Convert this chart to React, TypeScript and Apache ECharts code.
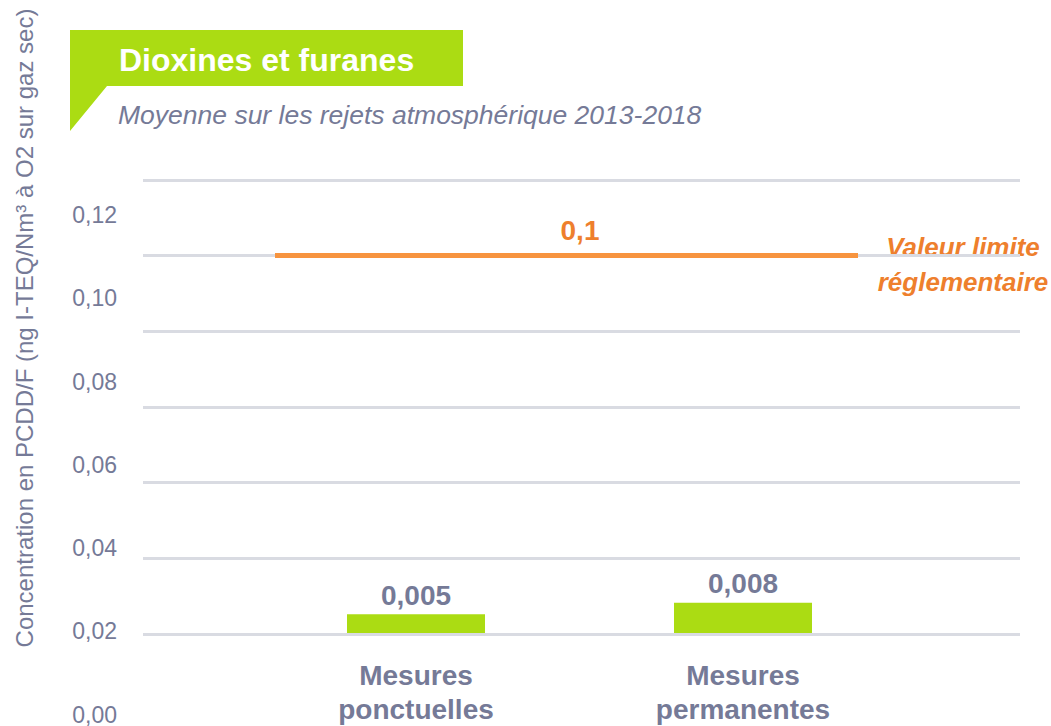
import React, { useEffect, useRef } from "react";
import * as echarts from "echarts";

const categories = ["Mesures\nponctuelles", "Mesures\npermanentes"];
const values = [0.005, 0.008];
const limitValue = 0.1;
const limitLabel = ["Valeur limite", "réglementaire"];
const yMin = 0;
const yMax = 0.12;
const yInterval = 0.02;
const title = "Dioxines et furanes";
const subtitle = "Moyenne sur les rejets atmosphérique 2013-2018";
const yTitle = "Concentration en PCDD/F (ng I-TEQ/Nm³ à O2 sur gaz sec)";

const FONT = "'Liberation Sans', Arial, sans-serif";
const GRAY = "#757a97";
const GREEN = "#abdc13";
const ORANGE_LINE = "#f7943f";
const ORANGE_TEXT = "#ee7f2d";
const GRID = "#d9dbe2";

const fmt = (v: number) => String(v).replace(".", ",");
const fmtTick = (v: number) => v.toFixed(2).replace(".", ",");

export default function App() {
  const ref = useRef<HTMLDivElement>(null);
  useEffect(() => {
    if (!ref.current) return;
    const chart = echarts.init(ref.current, null, { renderer: "svg" });
    chart.setOption({
      animation: false,
      backgroundColor: "#ffffff",
      textStyle: { fontFamily: FONT },
      grid: [
        { left: 143, right: 31, top: 180, bottom: 92 },
        { left: 252.5, width: 654, top: 180, bottom: 92 },
        { left: 125, width: 10, top: 215, bottom: 10 },
        { left: 275, width: 583, top: 180, bottom: 92 },
      ],
      xAxis: [
        { type: "value", gridIndex: 0, show: false, min: 0, max: 1 },
        {
          type: "category",
          gridIndex: 1,
          data: categories,
          axisLine: { show: false },
          axisTick: { show: false },
          axisLabel: {
            color: GRAY,
            fontFamily: FONT,
            fontWeight: "bold",
            fontSize: 28,
            lineHeight: 34,
            margin: 25,
            interval: 0,
          },
        },
        { type: "value", gridIndex: 2, show: false, min: 0, max: 1 },
        { type: "value", gridIndex: 3, show: false, min: 0, max: 1 },
      ],
      yAxis: [
        {
          type: "value",
          gridIndex: 0,
          min: yMin,
          max: yMax,
          interval: yInterval,
          axisLabel: { show: false },
          axisLine: { show: false },
          axisTick: { show: false },
          splitLine: { lineStyle: { color: GRID, width: 3 } },
        },
        { type: "value", gridIndex: 1, min: yMin, max: yMax, show: false },
        {
          type: "value",
          gridIndex: 2,
          min: yMin,
          max: yMax,
          interval: yInterval,
          axisLine: { show: false },
          axisTick: { show: false },
          splitLine: { show: false },
          axisLabel: {
            color: GRAY,
            fontFamily: FONT,
            fontSize: 23,
            margin: 8,
            formatter: fmtTick,
          },
        },
        { type: "value", gridIndex: 3, min: yMin, max: yMax, show: false },
      ],
      series: [
        {
          type: "bar",
          xAxisIndex: 1,
          yAxisIndex: 1,
          data: values,
          barWidth: 138,
          itemStyle: { color: GREEN },
          label: {
            show: true,
            position: "top",
            distance: 5,
            color: GRAY,
            fontFamily: FONT,
            fontWeight: "bold",
            fontSize: 28,
            formatter: (p: any) => fmt(p.value),
          },
        },
        {
          type: "line",
          xAxisIndex: 3,
          yAxisIndex: 3,
          data: [],
          markLine: {
            silent: true,
            symbol: ["none", "none"],
            lineStyle: { color: ORANGE_LINE, width: 5, type: "solid" },
            label: {
              show: true,
              position: "insideMiddleTop",
              distance: 11,
              color: ORANGE_TEXT,
              fontFamily: FONT,
              fontWeight: "bold",
              fontSize: 28,
              padding: [0, 0, 0, 27],
              formatter: (p: any) => fmt(p.value),
            },
            data: [{ yAxis: limitValue }],
          },
        },
      ],
      graphic: [
        {
          type: "polygon",
          shape: {
            points: [
              [70, 30],
              [463, 30],
              [463, 86],
              [107, 86],
              [70, 131],
            ],
          },
          style: { fill: GREEN },
        },
        {
          type: "text",
          x: 119,
          y: 60,
          style: {
            text: title,
            fill: "#ffffff",
            font: `bold 32px ${FONT}`,
            verticalAlign: "middle",
            align: "left",
          },
        },
        {
          type: "text",
          x: 118,
          y: 115,
          style: {
            text: subtitle,
            fill: GRAY,
            font: `italic 26.5px ${FONT}`,
            verticalAlign: "middle",
            align: "left",
          },
        },
        {
          type: "text",
          x: 24,
          y: 328,
          rotation: Math.PI / 2,
          style: {
            text: yTitle,
            fill: GRAY,
            font: `24px ${FONT}`,
            verticalAlign: "middle",
            align: "center",
          },
        },
        {
          type: "text",
          x: 963,
          y: 264,
          style: {
            text: limitLabel.join("\n"),
            fill: ORANGE_TEXT,
            font: `italic bold 26px ${FONT}`,
            lineHeight: 35,
            verticalAlign: "middle",
            align: "center",
          },
        },
      ],
    });
    return () => chart.dispose();
  }, []);
  return (
    <div
      ref={ref}
      style={{ position: "fixed", left: 0, top: 0, width: 1051, height: 726 }}
    />
  );
}
